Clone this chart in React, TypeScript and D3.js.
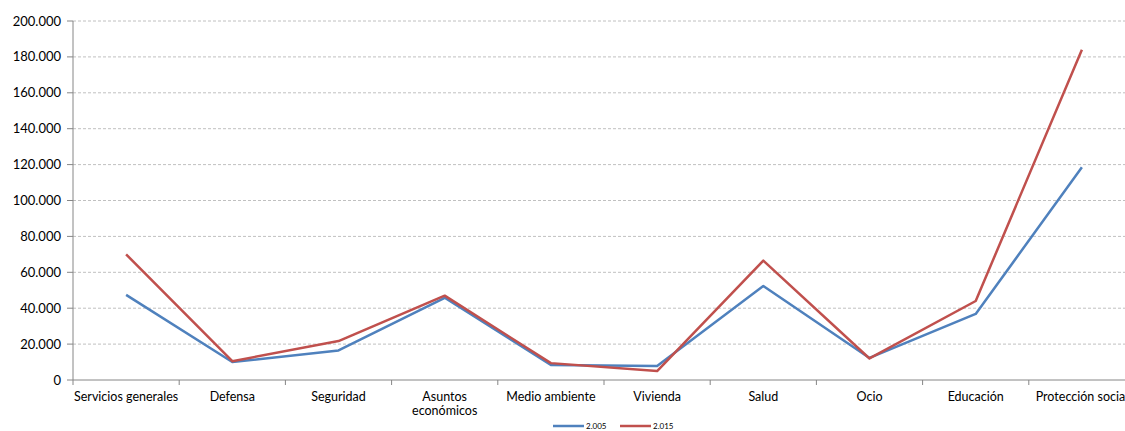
import React from "react";
import * as d3 from "d3";

const categories = [
  ["Servicios generales"],
  ["Defensa"],
  ["Seguridad"],
  ["Asuntos", "económicos"],
  ["Medio ambiente"],
  ["Vivienda"],
  ["Salud"],
  ["Ocio"],
  ["Educación"],
  ["Protección social"],
];
const series2005 = [47400, 10000, 16500, 45800, 8400, 7800, 52400, 12300, 36800, 118500];
const series2015 = [70000, 10500, 21700, 47000, 9400, 5000, 66500, 12000, 44000, 184000];
const yTicks = [0, 20000, 40000, 60000, 80000, 100000, 120000, 140000, 160000, 180000, 200000];
const seriesNames = ["2.005", "2.015"];

const W = 1125;
const H = 431;
const left = 73;
const right = 1135;
const top = 21;
const bottom = 380;
const font = "Lato, 'Open Sans', sans-serif";
const fmt = (v: number) => (v === 0 ? "0" : d3.format(",")(v).replace(/,/g, "."));

export default function App() {
  const x = d3.scaleBand<number>().domain(d3.range(categories.length)).range([left, right]);
  const y = d3.scaleLinear().domain([0, 200000]).range([bottom, top]);
  const line = d3
    .line<number>()
    .x((_, i) => (x(i) as number) + x.bandwidth() / 2)
    .y((d) => y(d));
  const colors = ["#4F81BD", "#C0504D"];
  const data = [series2005, series2015];
  return (
    <svg width={W} height={H} style={{ position: "absolute", left: 0, top: 0 }}>
      <rect width={W} height={H} fill="#fff" />
      {yTicks.map((t) => (
        <g key={t}>
          {t > 0 && (
            <line x1={left} x2={W} y1={y(t)} y2={y(t)} stroke="#c0c0c0" strokeDasharray="3,2" strokeWidth={1} />
          )}
          <line x1={left - 6} x2={left} y1={y(t)} y2={y(t)} stroke="#868686" />
          <text x={61} y={y(t)} dy="0.35em" textAnchor="end" fontFamily={font} fontSize={13} fill="#000">
            {fmt(t)}
          </text>
        </g>
      ))}
      <line x1={left} x2={left} y1={top} y2={bottom} stroke="#868686" />
      <line x1={left} x2={W} y1={bottom} y2={bottom} stroke="#868686" />
      {d3.range(categories.length + 1).map((i) => {
        const xx = i < categories.length ? (x(i) as number) : right;
        return <line key={i} x1={xx} x2={xx} y1={bottom} y2={bottom + 5} stroke="#868686" />;
      })}
      {categories.map((c, i) => (
        <text key={i} x={(x(i) as number) + x.bandwidth() / 2} y={401} textAnchor="middle" fontFamily={font} fontSize={12.5} fill="#000">
          {c.map((l, j) => (
            <tspan key={j} x={(x(i) as number) + x.bandwidth() / 2} dy={j === 0 ? 0 : 14}>
              {l}
            </tspan>
          ))}
        </text>
      ))}
      {data.map((d, k) => (
        <path key={k} d={line(d) || ""} fill="none" stroke={colors[k]} strokeWidth={2.5} strokeLinejoin="round" />
      ))}
      {seriesNames.map((n, k) => {
        const lx = 553 + k * 67;
        return (
          <g key={n}>
            <line x1={lx} x2={lx + 31} y1={426} y2={426} stroke={colors[k]} strokeWidth={2.5} />
            <text x={lx + 33} y={426} dy="0.35em" fontFamily={font} fontSize={8} fill="#000">
              {n}
            </text>
          </g>
        );
      })}
    </svg>
  );
}
